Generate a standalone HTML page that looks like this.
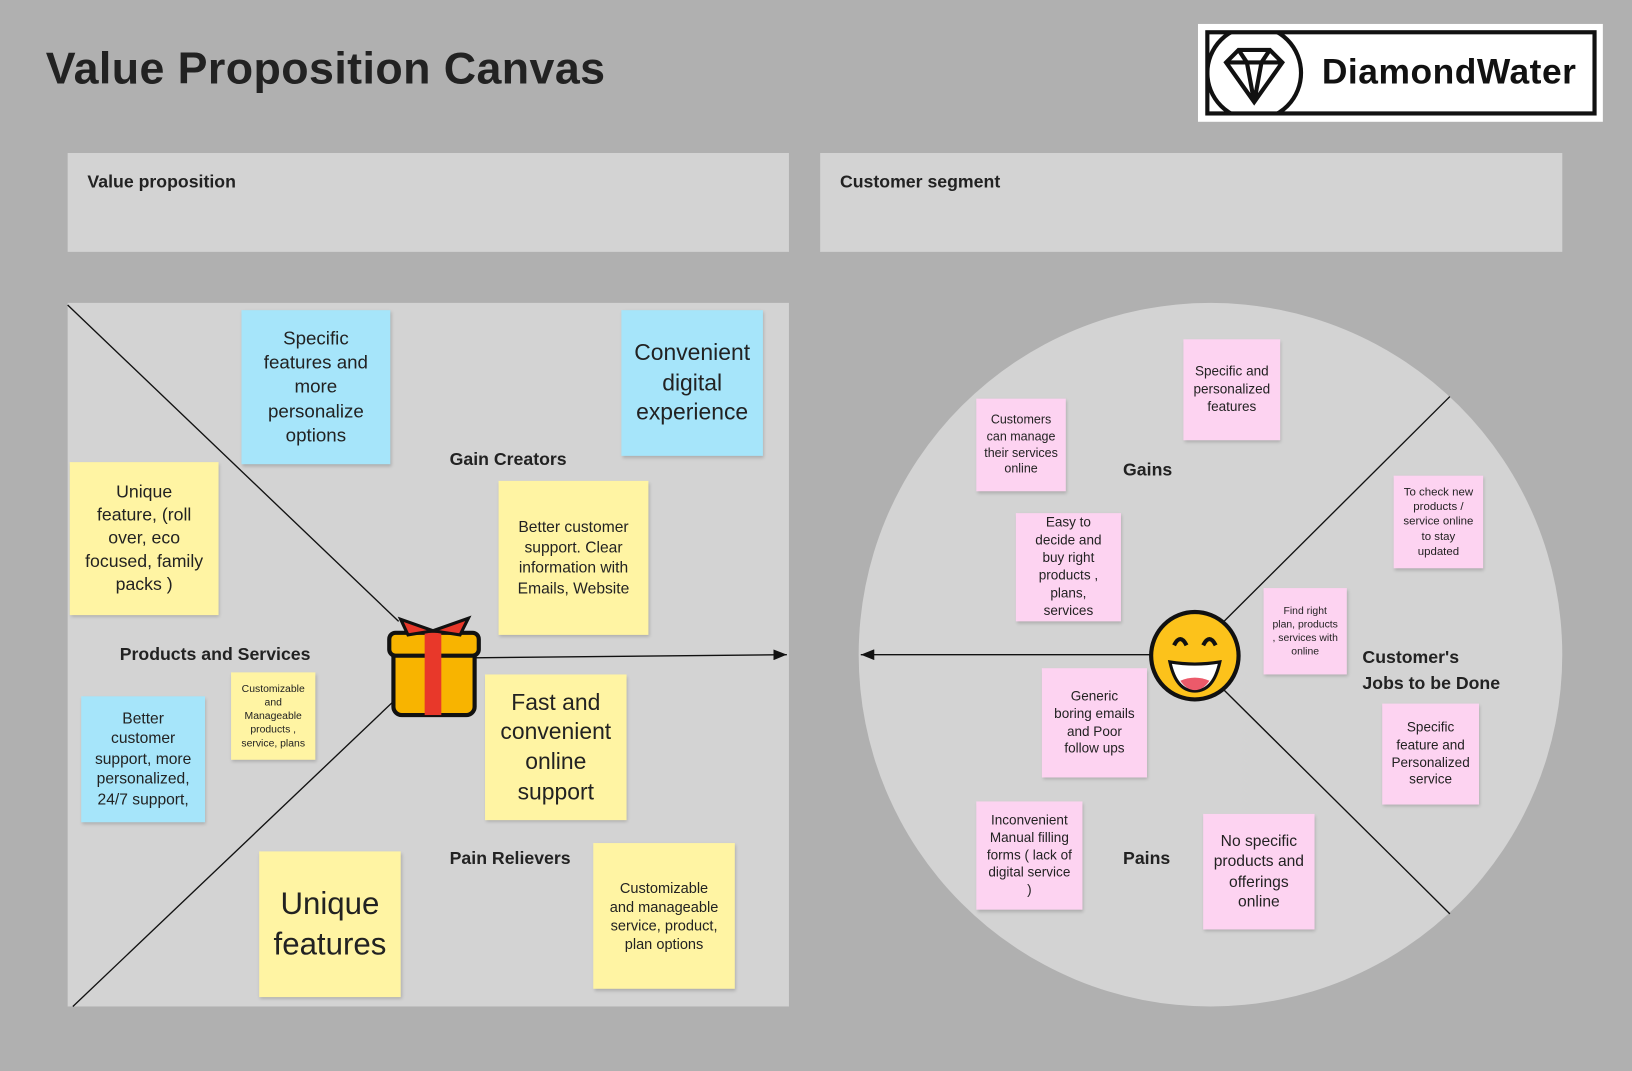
<!DOCTYPE html>
<html><head><meta charset="utf-8">
<style>
html,body{margin:0;padding:0;width:1632px;height:1071px;overflow:hidden;background:#b0b0b0;}
#w{position:absolute;left:0;top:0;width:1568px;height:1029px;transform:scale(1.04082,1.04082);transform-origin:0 0;font-family:"Liberation Sans",sans-serif;color:#1e1e1e;}
.a{position:absolute;}
.st{position:absolute;display:flex;align-items:center;justify-content:center;text-align:center;box-sizing:border-box;padding:4px 12px;box-shadow:1px 2px 3px rgba(0,0,0,0.18);line-height:1.3;color:#222;}
.b{background:#a6e5fa;}.y{background:#fff4a3;}.p{background:#fdd3f1;}
.lb{position:absolute;font-weight:bold;font-size:17px;color:#222;}
</style></head><body><div id="w">
<div class="a" style="left:44px;top:42px;font-size:43px;font-weight:bold;color:#222;letter-spacing:0.4px;">Value Proposition Canvas</div>
<div class="a" style="left:1151px;top:23px;width:389px;height:94px;background:#fff;"></div>
<div class="a" style="left:1158px;top:29px;width:368px;height:74px;border:4px solid #111;"></div>
<svg class="a" style="left:1160px;top:30px" width="100" height="80" viewBox="0 0 100 80">
<circle cx="45" cy="40" r="45" fill="none" stroke="#111" stroke-width="4"/>
<path d="M18 30 L30 18 L60 18 L72 30 L45 68 Z M18 30 L72 30 M30 18 L38 30 L45 68 L52 30 L60 18" fill="none" stroke="#111" stroke-width="4"/>
</svg>
<div class="a" style="left:1270px;top:50px;font-size:34px;font-weight:bold;color:#111;letter-spacing:0.5px;">DiamondWater</div>

<div class="a" style="left:65px;top:147px;width:693px;height:95px;background:#d3d3d3;"></div>
<div class="a" style="left:788px;top:147px;width:713px;height:95px;background:#d3d3d3;"></div>
<div class="lb" style="left:84px;top:165px;">Value proposition</div>
<div class="lb" style="left:807px;top:165px;">Customer segment</div>

<div class="a" style="left:65px;top:291px;width:693px;height:676px;background:#d3d3d3;"></div>
<div class="a" style="left:825px;top:291px;width:676px;height:676px;border-radius:50%;background:#d3d3d3;"></div>
<svg class="a" style="left:0;top:0" width="1568" height="1029">
<defs><marker id="ar" markerWidth="10" markerHeight="8" refX="10" refY="4" orient="auto"><path d="M0 0 L10 4 L0 8 Z" fill="#111"/></marker></defs>
<g stroke="#111" stroke-width="1.3" fill="none">
<line x1="65" y1="293" x2="383" y2="597"/>
<line x1="380" y1="672" x2="70" y2="967"/>
<line x1="455" y1="632" x2="756" y2="629" marker-end="url(#ar)"/>
<line x1="1105" y1="629" x2="827" y2="629" marker-end="url(#ar)"/>
<line x1="1175" y1="598" x2="1393" y2="381"/>
<line x1="1175" y1="662" x2="1393" y2="878"/>
</g>
<g>
<rect x="378" y="615" width="78" height="72" rx="8" fill="#f8b400" stroke="#111" stroke-width="4"/>
<rect x="374" y="608" width="86" height="22" rx="6" fill="#f8b400" stroke="#111" stroke-width="4"/>
<rect x="408" y="608" width="16" height="79" fill="#e8382a"/>
<path d="M416 606 L385 595 L392 610 Z M416 606 L450 594 L442 610 Z" fill="#e8382a" stroke="#111" stroke-width="3"/>
</g>
<g>
<circle cx="1148" cy="630" r="42" fill="#fcc21b" stroke="#111" stroke-width="4"/>
<path d="M1128 620 Q1134 608 1140 620 M1156 620 Q1162 608 1168 620" stroke="#111" stroke-width="4" fill="none"/>
<path d="M1124 636 Q1148 640 1172 636 Q1166 664 1148 664 Q1130 664 1124 636 Z" fill="#fff" stroke="#111" stroke-width="3"/>
<path d="M1134 654 Q1148 648 1162 654 Q1156 663 1148 663 Q1140 663 1134 654 Z" fill="#ec5a6a"/>
</g>
</svg>

<div class="st b" style="left:232px;top:298px;width:143px;height:148px;font-size:18px;padding:4px 18px;">Specific features and more personalize options</div>
<div class="st b" style="left:597px;top:298px;width:136px;height:140px;font-size:22px;">Convenient digital experience</div>
<div class="st b" style="left:78px;top:669px;width:119px;height:121px;font-size:15px;padding:4px 8px;">Better customer support, more personalized, 24/7 support,</div>
<div class="st y" style="left:67px;top:444px;width:143px;height:147px;font-size:17px;padding:4px 14px;">Unique feature, (roll over, eco focused, family packs )</div>
<div class="st y" style="left:479px;top:462px;width:144px;height:148px;font-size:15px;">Better customer support. Clear information with Emails, Website</div>
<div class="st y" style="left:222px;top:646px;width:81px;height:84px;font-size:10px;padding:4px 6px;">Customizable and Manageable products , service, plans</div>
<div class="st y" style="left:466px;top:648px;width:136px;height:140px;font-size:22px;">Fast and convenient online support</div>
<div class="st y" style="left:249px;top:818px;width:136px;height:140px;font-size:30px;">Unique features</div>
<div class="st y" style="left:570px;top:810px;width:136px;height:140px;font-size:14px;">Customizable and manageable service, product, plan options</div>

<div class="st p" style="left:1137px;top:326px;width:93px;height:97px;font-size:13px;padding:4px 8px;">Specific and personalized features</div>
<div class="st p" style="left:938px;top:383px;width:86px;height:89px;font-size:12px;padding:4px 7px;">Customers can manage their services online</div>
<div class="st p" style="left:976px;top:493px;width:101px;height:104px;font-size:13px;padding:4px 8px;">Easy to decide and buy right products , plans, services</div>
<div class="st p" style="left:1339px;top:457px;width:86px;height:89px;font-size:11px;padding:4px 9px;">To check new products / service online to stay updated</div>
<div class="st p" style="left:1214px;top:565px;width:80px;height:83px;font-size:10px;padding:4px 8px;">Find right plan, products , services with online</div>
<div class="st p" style="left:1001px;top:642px;width:101px;height:105px;font-size:13px;padding:4px 10px;">Generic boring emails and Poor follow ups</div>
<div class="st p" style="left:1328px;top:676px;width:93px;height:97px;font-size:13px;padding:4px 8px;">Specific feature and Personalized service</div>
<div class="st p" style="left:938px;top:770px;width:102px;height:104px;font-size:13px;padding:4px 10px;">Inconvenient Manual filling forms ( lack of digital service )</div>
<div class="st p" style="left:1156px;top:782px;width:107px;height:111px;font-size:15px;padding:4px 10px;">No specific products and offerings online</div>

<div class="lb" style="left:432px;top:432px;">Gain Creators</div>
<div class="lb" style="left:115px;top:619px;">Products and Services</div>
<div class="lb" style="left:432px;top:815px;">Pain Relievers</div>
<div class="lb" style="left:1079px;top:442px;">Gains</div>
<div class="lb" style="left:1309px;top:619px;line-height:25px;">Customer's<br>Jobs to be Done</div>
<div class="lb" style="left:1079px;top:815px;">Pains</div>
</div></body></html>
